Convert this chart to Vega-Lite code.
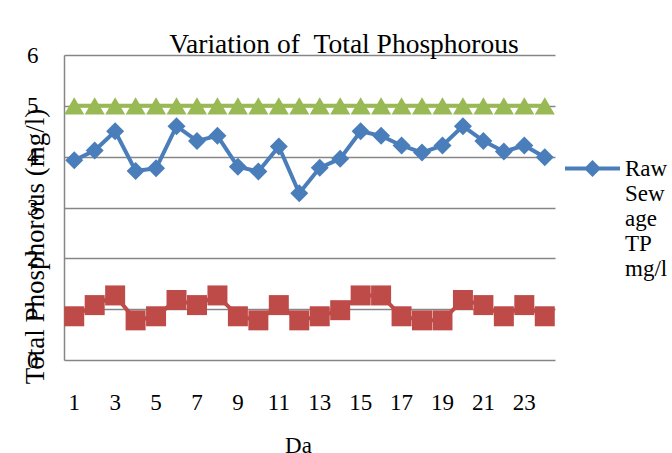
{
  "$schema": "https://vega.github.io/schema/vega-lite/v6.json",
  "width": 491,
  "height": 305,
  "autosize": {"type": "none"},
  "padding": {"left": 64, "top": 55, "right": 117, "bottom": 93},
  "background": "white",
  "config": {"font": "Liberation Serif", "view": {"stroke": null}},
  "title": {
    "text": "Variation of \u00a0Total Phosphorous",
    "fontSize": 27.5,
    "font": "Liberation Serif",
    "fontWeight": "normal",
    "color": "black",
    "anchor": "middle",
    "frame": "group",
    "dx": 34.5,
    "dy": 38,
    "baseline": "alphabetic",
    "offset": 2
  },
  "data": {
    "values": [
      {"day": 1, "series": "Raw Sewage TP mg/l", "value": 3.93},
      {"day": 2, "series": "Raw Sewage TP mg/l", "value": 4.12},
      {"day": 3, "series": "Raw Sewage TP mg/l", "value": 4.5},
      {"day": 4, "series": "Raw Sewage TP mg/l", "value": 3.72},
      {"day": 5, "series": "Raw Sewage TP mg/l", "value": 3.77},
      {"day": 6, "series": "Raw Sewage TP mg/l", "value": 4.6},
      {"day": 7, "series": "Raw Sewage TP mg/l", "value": 4.31},
      {"day": 8, "series": "Raw Sewage TP mg/l", "value": 4.41},
      {"day": 9, "series": "Raw Sewage TP mg/l", "value": 3.8},
      {"day": 10, "series": "Raw Sewage TP mg/l", "value": 3.71},
      {"day": 11, "series": "Raw Sewage TP mg/l", "value": 4.2},
      {"day": 12, "series": "Raw Sewage TP mg/l", "value": 3.28},
      {"day": 13, "series": "Raw Sewage TP mg/l", "value": 3.78},
      {"day": 14, "series": "Raw Sewage TP mg/l", "value": 3.96},
      {"day": 15, "series": "Raw Sewage TP mg/l", "value": 4.5},
      {"day": 16, "series": "Raw Sewage TP mg/l", "value": 4.41},
      {"day": 17, "series": "Raw Sewage TP mg/l", "value": 4.22},
      {"day": 18, "series": "Raw Sewage TP mg/l", "value": 4.08},
      {"day": 19, "series": "Raw Sewage TP mg/l", "value": 4.22},
      {"day": 20, "series": "Raw Sewage TP mg/l", "value": 4.6},
      {"day": 21, "series": "Raw Sewage TP mg/l", "value": 4.31},
      {"day": 22, "series": "Raw Sewage TP mg/l", "value": 4.1},
      {"day": 23, "series": "Raw Sewage TP mg/l", "value": 4.22},
      {"day": 24, "series": "Raw Sewage TP mg/l", "value": 3.99},
      {"day": 1, "series": "Treated Sewage TP mg/l", "value": 0.86},
      {"day": 2, "series": "Treated Sewage TP mg/l", "value": 1.08},
      {"day": 3, "series": "Treated Sewage TP mg/l", "value": 1.27},
      {"day": 4, "series": "Treated Sewage TP mg/l", "value": 0.78},
      {"day": 5, "series": "Treated Sewage TP mg/l", "value": 0.86},
      {"day": 6, "series": "Treated Sewage TP mg/l", "value": 1.18},
      {"day": 7, "series": "Treated Sewage TP mg/l", "value": 1.08},
      {"day": 8, "series": "Treated Sewage TP mg/l", "value": 1.27},
      {"day": 9, "series": "Treated Sewage TP mg/l", "value": 0.86},
      {"day": 10, "series": "Treated Sewage TP mg/l", "value": 0.78},
      {"day": 11, "series": "Treated Sewage TP mg/l", "value": 1.08},
      {"day": 12, "series": "Treated Sewage TP mg/l", "value": 0.78},
      {"day": 13, "series": "Treated Sewage TP mg/l", "value": 0.86},
      {"day": 14, "series": "Treated Sewage TP mg/l", "value": 0.98},
      {"day": 15, "series": "Treated Sewage TP mg/l", "value": 1.27},
      {"day": 16, "series": "Treated Sewage TP mg/l", "value": 1.27},
      {"day": 17, "series": "Treated Sewage TP mg/l", "value": 0.86},
      {"day": 18, "series": "Treated Sewage TP mg/l", "value": 0.78},
      {"day": 19, "series": "Treated Sewage TP mg/l", "value": 0.78},
      {"day": 20, "series": "Treated Sewage TP mg/l", "value": 1.18},
      {"day": 21, "series": "Treated Sewage TP mg/l", "value": 1.08},
      {"day": 22, "series": "Treated Sewage TP mg/l", "value": 0.86},
      {"day": 23, "series": "Treated Sewage TP mg/l", "value": 1.08},
      {"day": 24, "series": "Treated Sewage TP mg/l", "value": 0.86},
      {"day": 1, "series": "Standard", "value": 5},
      {"day": 2, "series": "Standard", "value": 5},
      {"day": 3, "series": "Standard", "value": 5},
      {"day": 4, "series": "Standard", "value": 5},
      {"day": 5, "series": "Standard", "value": 5},
      {"day": 6, "series": "Standard", "value": 5},
      {"day": 7, "series": "Standard", "value": 5},
      {"day": 8, "series": "Standard", "value": 5},
      {"day": 9, "series": "Standard", "value": 5},
      {"day": 10, "series": "Standard", "value": 5},
      {"day": 11, "series": "Standard", "value": 5},
      {"day": 12, "series": "Standard", "value": 5},
      {"day": 13, "series": "Standard", "value": 5},
      {"day": 14, "series": "Standard", "value": 5},
      {"day": 15, "series": "Standard", "value": 5},
      {"day": 16, "series": "Standard", "value": 5},
      {"day": 17, "series": "Standard", "value": 5},
      {"day": 18, "series": "Standard", "value": 5},
      {"day": 19, "series": "Standard", "value": 5},
      {"day": 20, "series": "Standard", "value": 5},
      {"day": 21, "series": "Standard", "value": 5},
      {"day": 22, "series": "Standard", "value": 5},
      {"day": 23, "series": "Standard", "value": 5},
      {"day": 24, "series": "Standard", "value": 5}
    ]
  },
  "encoding": {
    "x": {
      "field": "day",
      "type": "ordinal",
      "scale": {"type": "band", "paddingInner": 0, "paddingOuter": 0},
      "axis": {
        "values": [1, 3, 5, 7, 9, 11, 13, 15, 17, 19, 21, 23],
        "labelAngle": 0,
        "labelFontSize": 23,
        "labelColor": "black",
        "labelPadding": 31,
        "ticks": false,
        "domain": false,
        "grid": false,
        "title": "Da",
        "titleFontSize": 23,
        "titleFontWeight": "normal",
        "titleColor": "black",
        "titleX": 234,
        "titleY": 92,
        "titleAlign": "center",
        "titleBaseline": "alphabetic"
      }
    },
    "y": {
      "field": "value",
      "type": "quantitative",
      "scale": {"domain": [0, 6], "nice": false},
      "axis": {
        "values": [0, 1, 2, 3, 4, 5, 6],
        "grid": true,
        "gridColor": "#868686",
        "gridWidth": 1.5,
        "domainColor": "#868686",
        "domainWidth": 1.5,
        "ticks": false,
        "labelFontSize": 23,
        "labelColor": "black",
        "labelPadding": 26,
        "title": "Total Phosphorous (mg/l)",
        "titleFontSize": 27,
        "titleFontWeight": "normal",
        "titleColor": "black",
        "titleAngle": -90,
        "titleX": -21,
        "titleY": 191,
        "titleAlign": "center",
        "titleBaseline": "alphabetic"
      }
    },
    "color": {
      "field": "series",
      "type": "nominal",
      "scale": {
        "domain": ["Raw Sewage TP mg/l", "Treated Sewage TP mg/l", "Standard"],
        "range": ["#4A7EBB", "#BE4B48", "#98B954"]
      },
      "legend": {
        "orient": "none",
        "legendX": 501,
        "legendY": 86,
        "title": null,
        "values": ["Raw Sewage TP mg/l"],
        "symbolType": "M-1,-0.073H1V0.073H-1Z M0,-0.31L0.31,0L0,0.31L-0.31,0Z",
        "symbolSize": 3025,
        "symbolStrokeWidth": 0,
        "symbolFillColor": "#4A7EBB",
        "labelExpr": "['Raw','Sew','age','TP','mg/l']",
        "labelFontSize": 23,
        "labelColor": "black",
        "labelLimit": 0,
        "labelOffset": 5,
        "encode": {
          "symbols": {
            "update": {
              "shape": {"value": "M-1,-0.073H1V0.073H-1Z M0,-0.31L0.31,0L0,0.31L-0.31,0Z"},
              "size": {"value": 3025},
              "fill": {"value": "#4A7EBB"},
              "strokeWidth": {"value": 0},
              "opacity": {"value": 1}
            }
          }
        }
      }
    }
  },
  "layer": [
    {"mark": {"type": "line", "strokeWidth": 4}},
    {
      "transform": [{"filter": "datum.series === 'Raw Sewage TP mg/l'"}],
      "mark": {"type": "point", "filled": true, "opacity": 1, "shape": "diamond", "size": 324}
    },
    {
      "transform": [{"filter": "datum.series === 'Treated Sewage TP mg/l'"}],
      "mark": {"type": "point", "filled": true, "opacity": 1, "shape": "square", "size": 400}
    },
    {
      "transform": [{"filter": "datum.series === 'Standard'"}],
      "mark": {"type": "point", "filled": true, "opacity": 1, "shape": "triangle-up", "size": 400}
    }
  ]
}
